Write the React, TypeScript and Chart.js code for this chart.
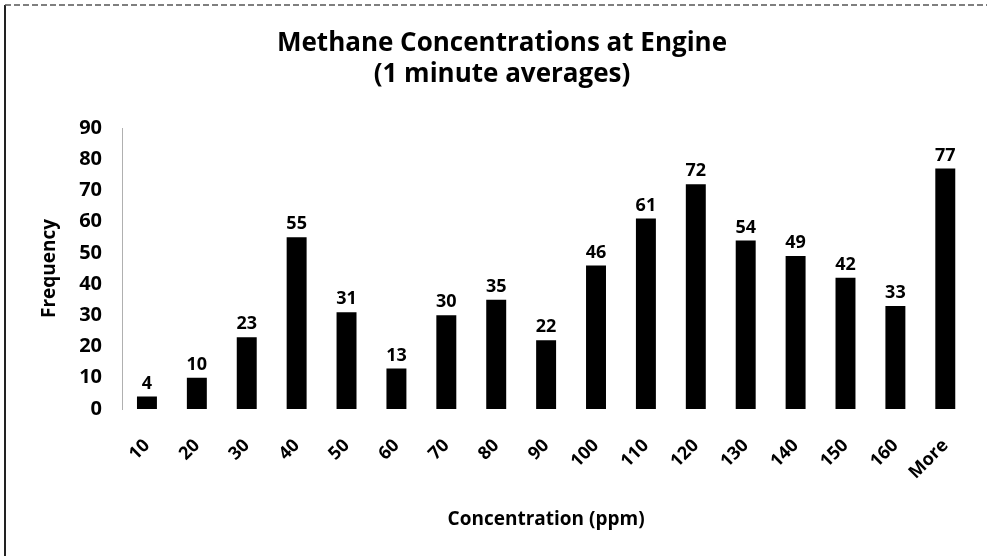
import React, { useEffect, useRef } from 'react';
import { Chart, registerables } from 'chart.js';

Chart.register(...registerables);

const categories: string[] = ['10', '20', '30', '40', '50', '60', '70', '80', '90', '100', '110', '120', '130', '140', '150', '160', 'More'];
const frequencies: number[] = [4, 10, 23, 55, 31, 13, 30, 35, 22, 46, 61, 72, 54, 49, 42, 33, 77];
const titleLines: string[] = ['Methane Concentrations at Engine', '(1 minute averages)'];
const xTitle = 'Concentration (ppm)';
const yTitle = 'Frequency';
const yMin = 0;
const yMax = 90;
const yStep = 10;

const FONT = '"Open Sans", Lato, sans-serif';

const frameTitleLabels = {
  id: 'frameTitleLabels',
  beforeDraw(chart: any) {
    const ctx = chart.ctx;
    ctx.save();
    ctx.fillStyle = '#ffffff';
    ctx.fillRect(0, 0, chart.width, chart.height);
    // left frame edge
    ctx.strokeStyle = '#222222';
    ctx.lineWidth = 2;
    ctx.beginPath();
    ctx.moveTo(5, chart.height);
    ctx.lineTo(5, 5);
    ctx.stroke();
    // top frame edge (dotted, scanned look)
    ctx.strokeStyle = '#555555';
    ctx.lineWidth = 1.5;
    ctx.setLineDash([6, 3]);
    ctx.beginPath();
    ctx.moveTo(5, 5);
    ctx.lineTo(chart.width, 5);
    ctx.stroke();
    ctx.setLineDash([]);
    // title
    ctx.fillStyle = '#000000';
    ctx.font = `bold 26px ${FONT}`;
    ctx.textAlign = 'center';
    ctx.textBaseline = 'middle';
    ctx.fillText(titleLines[0], 502, 44);
    ctx.fillText(titleLines[1], 502, 75);
    ctx.restore();
  },
  afterDatasetsDraw(chart: any) {
    const ctx = chart.ctx;
    const meta = chart.getDatasetMeta(0);
    const data = chart.data.datasets[0].data;
    ctx.save();
    ctx.fillStyle = '#000000';
    ctx.font = `bold 18px ${FONT}`;
    ctx.textAlign = 'center';
    ctx.textBaseline = 'bottom';
    meta.data.forEach((bar: any, i: number) => {
      ctx.fillText(String(data[i]), bar.x, bar.y - 4);
    });
    ctx.restore();
  },
};

export default function App() {
  const ref = useRef<HTMLCanvasElement>(null);
  useEffect(() => {
    if (!ref.current) return;
    const chart = new Chart(ref.current, {
      type: 'bar',
      data: {
        labels: categories,
        datasets: [
          {
            label: yTitle,
            data: frequencies,
            backgroundColor: '#000000',
            borderWidth: 0,
            categoryPercentage: 1,
            barPercentage: 0.4,
          },
        ],
      },
      options: {
        animation: false,
        responsive: false,
        layout: { padding: { left: 0, right: 15, top: 128, bottom: 0 } },
        plugins: {
          legend: { display: false },
          tooltip: { enabled: false },
          title: { display: false },
        },
        scales: {
          x: {
            grid: { display: false, drawTicks: false },
            border: { display: false },
            afterFit: (scale: any) => {
              scale.height = 147;
            },
            ticks: {
              color: '#000000',
              font: { family: FONT, size: 18, weight: 'bold' },
              minRotation: 45,
              maxRotation: 45,
              padding: 26,
            },
            title: {
              display: true,
              text: xTitle,
              color: '#000000',
              font: { family: FONT, size: 19, weight: 'bold', lineHeight: 1.2 },
              padding: { top: 0, bottom: 25 },
            },
          },
          y: {
            min: yMin,
            max: yMax,
            grid: { display: false, drawTicks: false },
            border: { display: true, color: '#b0b0b0', dash: [3, 3] },
            afterFit: (scale: any) => {
              scale.width = 122;
            },
            ticks: {
              stepSize: yStep,
              color: '#000000',
              font: { family: FONT, size: 20, weight: 'bold' },
              padding: 20,
            },
            title: {
              display: true,
              text: yTitle,
              color: '#000000',
              font: { family: FONT, size: 19, weight: 'bold', lineHeight: 1.2 },
              padding: { top: 38, bottom: 0 },
            },
          },
        },
      },
      plugins: [frameTitleLabels],
    } as any);
    return () => chart.destroy();
  }, []);
  return (
    <div style={{ position: 'fixed', left: 0, top: 0, width: 987, height: 556, background: '#fff' }}>
      <canvas ref={ref} width={987} height={556} />
    </div>
  );
}
